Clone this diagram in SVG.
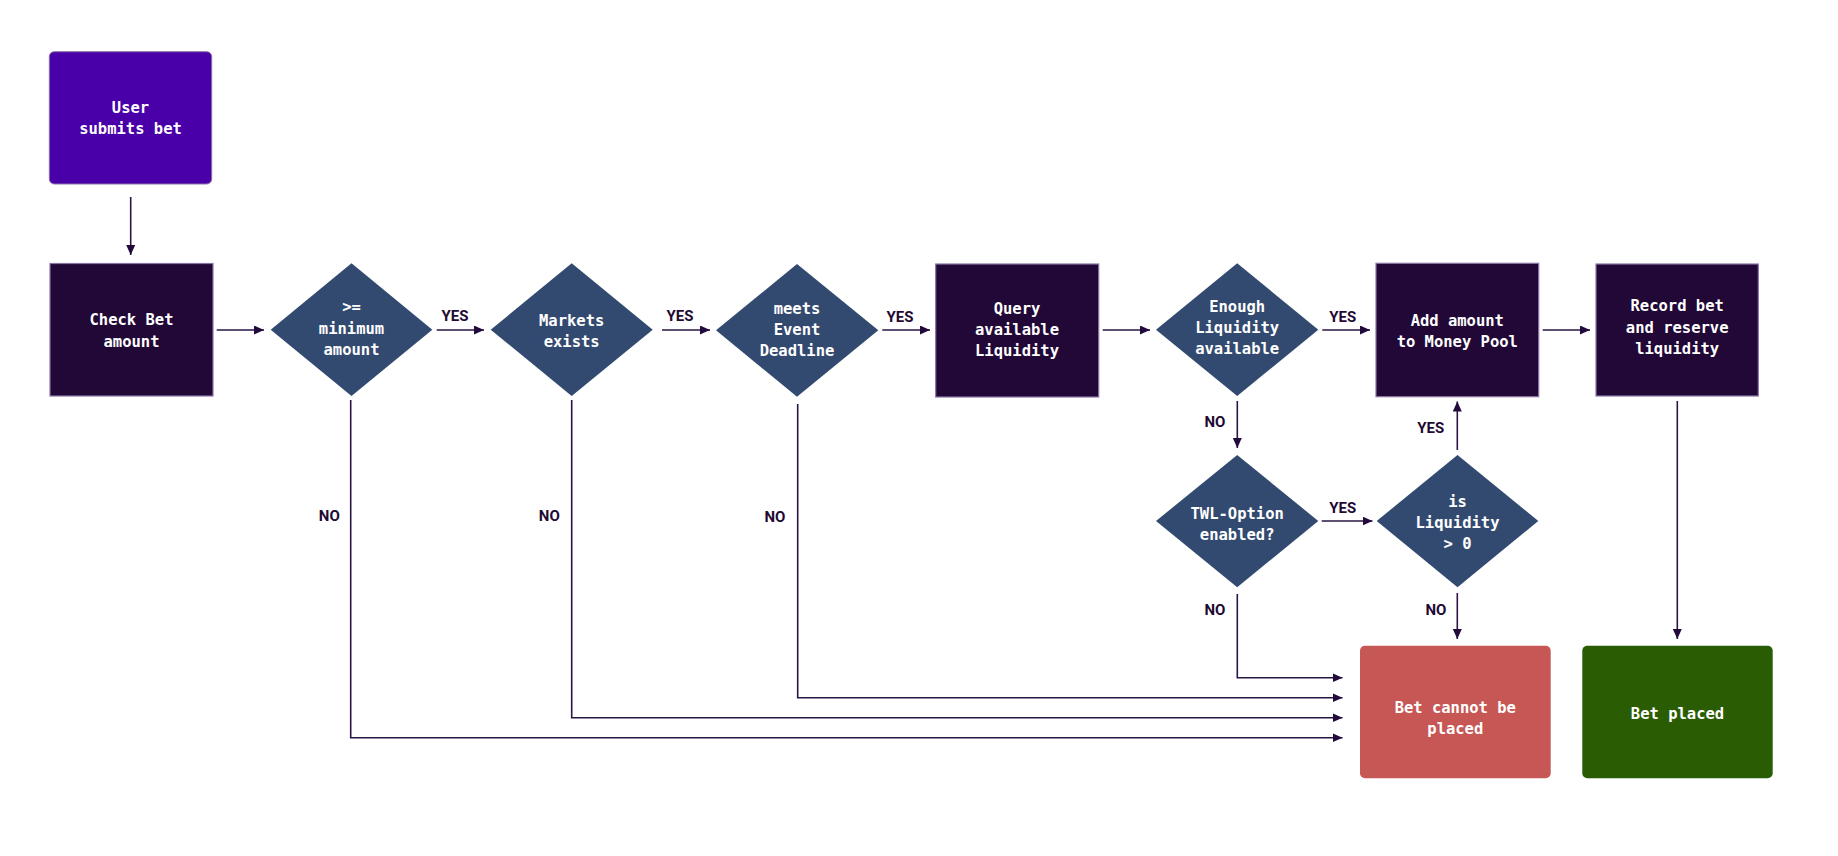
<svg xmlns="http://www.w3.org/2000/svg" width="1838" height="856" viewBox="0 0 1838 856">
<style>
.bg{fill:#ffffff}
.proc{fill:#210836;stroke:#8a74a6;stroke-width:1.2}
.dec{fill:#334a70}
.start{fill:#4a00a8;stroke:#8a74a6;stroke-width:1}
.fail{fill:#c75754}
.ok{fill:#2a5c03}
.t{font-family:"DejaVu Sans Mono","Liberation Mono",monospace;font-weight:bold;font-size:15.5px;fill:#ffffff;text-anchor:middle}
.lbl{font-family:Roboto,"Liberation Sans",sans-serif;font-weight:bold;font-size:15px;fill:#1f0a33;text-anchor:middle}
.c{fill:none;stroke:#2a1545;stroke-width:1.6}
</style>
<defs>
<marker id="ah" markerUnits="userSpaceOnUse" markerWidth="11" markerHeight="10" refX="10" refY="4.5" orient="auto">
<path d="M0,0 L10,4.5 L0,9 z" fill="#220a3d"/>
</marker>
</defs>
<rect class="bg" x="0" y="0" width="1838" height="856"/>

<g id="connectors">
<path class="c" d="M130.7,197 V255" marker-end="url(#ah)"/>
<path class="c" d="M216.7,330 H264" marker-end="url(#ah)"/>
<path class="c" d="M436.7,330 H484" marker-end="url(#ah)"/>
<path class="c" d="M662,330 H710" marker-end="url(#ah)"/>
<path class="c" d="M882.3,330 H930" marker-end="url(#ah)"/>
<path class="c" d="M1102.7,330 H1150" marker-end="url(#ah)"/>
<path class="c" d="M1322.3,330 H1370" marker-end="url(#ah)"/>
<path class="c" d="M1542.7,330 H1590" marker-end="url(#ah)"/>
<path class="c" d="M1237.3,401 V448" marker-end="url(#ah)"/>
<path class="c" d="M1321.7,521 H1372.5" marker-end="url(#ah)"/>
<path class="c" d="M1457.3,450 V401.5" marker-end="url(#ah)"/>
<path class="c" d="M1457.3,593 V639" marker-end="url(#ah)"/>
<path class="c" d="M1677.3,401 V639" marker-end="url(#ah)"/>
<path class="c" d="M1237.3,594 V677.7 H1342.5" marker-end="url(#ah)"/>
<path class="c" d="M797.7,404 V697.7 H1342.5" marker-end="url(#ah)"/>
<path class="c" d="M571.7,400 V717.7 H1342.5" marker-end="url(#ah)"/>
<path class="c" d="M350.7,400 V737.7 H1342.5" marker-end="url(#ah)"/>
<text class="lbl" x="455" y="321">YES</text>
<text class="lbl" x="680" y="321">YES</text>
<text class="lbl" x="900" y="322">YES</text>
<text class="lbl" x="1342.7" y="322">YES</text>
<text class="lbl" x="1342.7" y="513">YES</text>
<text class="lbl" x="1430.7" y="433">YES</text>
<text class="lbl" x="1215" y="427">NO</text>
<text class="lbl" x="1215" y="615">NO</text>
<text class="lbl" x="1436" y="615">NO</text>
<text class="lbl" x="329.3" y="521">NO</text>
<text class="lbl" x="549.3" y="521">NO</text>
<text class="lbl" x="775" y="522">NO</text>
</g>

<g id="user-submits">
<rect class="start" x="49.3" y="51.7" width="162.4" height="132.3" rx="5"/>
<text class="t" x="130.5" y="113">User</text>
<text class="t" x="130.5" y="134">submits bet</text>
</g>
<g id="check-bet">
<rect class="proc" x="50" y="263.5" width="163" height="132.5"/>
<text class="t" x="131.5" y="325">Check Bet</text>
<text class="t" x="131.5" y="347">amount</text>
</g>
<g id="min-amount">
<polygon class="dec" points="351.5,263.3 432.3,329.7 351.5,396 270.7,329.7"/>
<text class="t" x="351.5" y="312">&gt;=</text>
<text class="t" x="351.5" y="333.5">minimum</text>
<text class="t" x="351.5" y="354.5">amount</text>
</g>
<g id="markets-exists">
<polygon class="dec" points="571.7,263.3 652.7,329.7 571.7,396 490.7,329.7"/>
<text class="t" x="571.7" y="326">Markets</text>
<text class="t" x="571.7" y="347">exists</text>
</g>
<g id="event-deadline">
<polygon class="dec" points="797,264 878.3,330.3 797,396.7 716,330.3"/>
<text class="t" x="797" y="313.5">meets</text>
<text class="t" x="797" y="335">Event</text>
<text class="t" x="797" y="356">Deadline</text>
</g>
<g id="query-liquidity">
<rect class="proc" x="935.7" y="264" width="163" height="133"/>
<text class="t" x="1017" y="314">Query</text>
<text class="t" x="1017" y="335">available</text>
<text class="t" x="1017" y="356">Liquidity</text>
</g>
<g id="enough-liquidity">
<polygon class="dec" points="1237.2,263.3 1318.3,329.7 1237.2,396 1156,329.7"/>
<text class="t" x="1237.2" y="311.5">Enough</text>
<text class="t" x="1237.2" y="332.5">Liquidity</text>
<text class="t" x="1237.2" y="353.5">available</text>
</g>
<g id="add-money-pool">
<rect class="proc" x="1376" y="263.3" width="162.7" height="133.4"/>
<text class="t" x="1457.3" y="326">Add amount</text>
<text class="t" x="1457.3" y="347">to Money Pool</text>
</g>
<g id="record-bet">
<rect class="proc" x="1596" y="264" width="162.3" height="132"/>
<text class="t" x="1677.2" y="311">Record bet</text>
<text class="t" x="1677.2" y="333">and reserve</text>
<text class="t" x="1677.2" y="354">liquidity</text>
</g>
<g id="twl-option">
<polygon class="dec" points="1237.2,455 1318.3,521 1237.2,587.3 1156,521"/>
<text class="t" x="1237.2" y="518.5">TWL-Option</text>
<text class="t" x="1237.2" y="539.5">enabled?</text>
</g>
<g id="liquidity-positive">
<polygon class="dec" points="1457.5,455 1538.3,521 1457.5,587.3 1376.7,521"/>
<text class="t" x="1457.5" y="507">is</text>
<text class="t" x="1457.5" y="528">Liquidity</text>
<text class="t" x="1457.5" y="549">&gt; 0</text>
</g>
<g id="bet-cannot">
<rect class="fail" x="1360" y="645.7" width="190.7" height="132.6" rx="5"/>
<text class="t" x="1455.3" y="713">Bet cannot be</text>
<text class="t" x="1455.3" y="734">placed</text>
</g>
<g id="bet-placed">
<rect class="ok" x="1582.3" y="645.7" width="190.4" height="132.6" rx="5"/>
<text class="t" x="1677.5" y="719">Bet placed</text>
</g>
</svg>
